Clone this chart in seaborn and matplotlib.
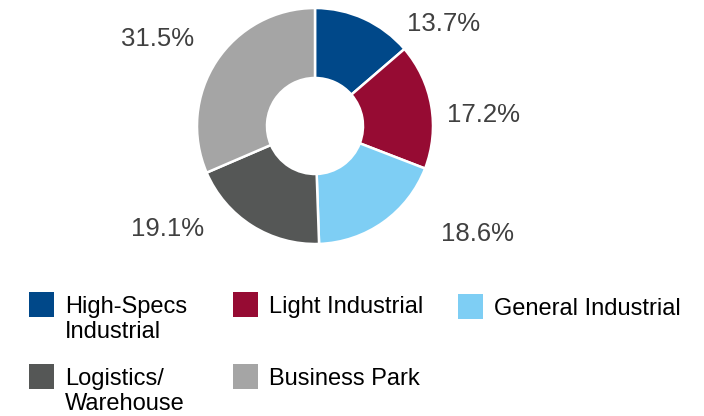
import matplotlib
matplotlib.use("Agg")
import matplotlib.pyplot as plt
from matplotlib.patches import Rectangle
import seaborn as sns

# Data
categories = ["High-Specs\nIndustrial", "Light Industrial", "General Industrial",
              "Logistics/\nWarehouse", "Business Park"]
shares = [13.7, 17.2, 18.6, 19.1, 31.5]
pct_labels = ["13.7%", "17.2%", "18.6%", "19.1%", "31.5%"]
colors = ["#004889", "#960B33", "#7ECEF4", "#555756", "#A5A5A5"]

sns.set_theme(style="white")
plt.rcParams['font.family'] = ['Liberation Sans', 'DejaVu Sans']

W, H = 704, 416
fig = plt.figure(figsize=(W / 100, H / 100), dpi=100)

# donut axes: centre (315, 126) px, radius 118 px
cx, cy, r = 315, 126, 118
ax = fig.add_axes([(cx - r) / W, (H - cy - r) / H, 2 * r / W, 2 * r / H])
palette = sns.color_palette(colors)
wedges, _ = ax.pie(shares, colors=palette, startangle=90, counterclock=False,
                   radius=1, wedgeprops=dict(width=1 - 48 / 118, edgecolor='white', linewidth=1.8))
ax.set_xlim(-1, 1)
ax.set_ylim(-1, 1)
ax.set_aspect('equal')
ax.axis('off')

# percentage labels (data units, baseline anchored)
label_pos = [(1.093, 0.805), (1.424, 0.034), (1.381, -0.975), (-1.246, -0.932), (-1.331, 0.678)]
for txt, (x, y) in zip(pct_labels, label_pos):
    ax.text(x, y, txt, ha='center', va='baseline', fontsize=18.5, color='#404040', clip_on=False)

# legend drawn by hand so patches sit beside the first text line
legend_pos = [(29, 292), (233, 292), (458, 294), (29, 364), (233, 364)]
box = 25
line_step = 25
for lab, c, (x, y) in zip(categories, palette, legend_pos):
    fig.add_artist(Rectangle((x / W, 1 - (y + box) / H), box / W, box / H,
                             transform=fig.transFigure, color=c, lw=0))
    for i, line in enumerate(lab.split("\n")):
        fig.text((x + 36) / W, 1 - (y + 21 + i * line_step) / H, line, ha='left',
                 va='baseline', fontsize=17, color='black')

fig.savefig("out.png", dpi=100)
